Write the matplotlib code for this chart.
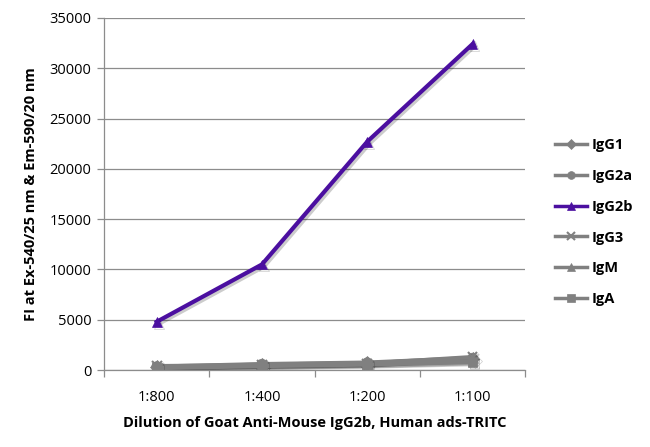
import matplotlib
matplotlib.use("Agg")
import matplotlib.pyplot as plt
import matplotlib.patheffects as pe

dilutions = ["1:800", "1:400", "1:200", "1:100"]
igg1 = [300, 550, 700, 1100]
igg2a = [350, 600, 750, 1200]
igg2b = [4800, 10500, 22700, 32400]
igg3 = [400, 500, 650, 1300]
igm = [250, 450, 600, 900]
iga = [200, 400, 550, 800]

series = [
    ("IgG1", igg1, "D", "#808080"),
    ("IgG2a", igg2a, "o", "#808080"),
    ("IgG2b", igg2b, "^", "#4B0FA0"),
    ("IgG3", igg3, "x", "#808080"),
    ("IgM", igm, "^", "#808080"),
    ("IgA", iga, "s", "#808080"),
]

plt.rcParams["font.family"] = ["Open Sans", "DejaVu Sans"]

fig = plt.figure(figsize=(6.5, 4.47), dpi=100)
ax = fig.add_axes([0.16, 0.172, 0.648, 0.788])

x = list(range(len(dilutions)))
shadow = [pe.SimpleLineShadow(offset=(1.5, -1.5), shadow_color="black", alpha=0.2), pe.Normal()]
for name, vals, mk, col in series:
    ax.plot(x, vals, color=col, lw=3, marker=mk, markersize=7,
            markeredgewidth=1.5 if mk == "x" else 0.5, markeredgecolor=col,
            label=name, path_effects=shadow, zorder=3 if name == "IgG2b" else 2)

ax.set_xlim(-0.5, 3.5)
ax.set_ylim(0, 35000)
ax.set_yticks(range(0, 35001, 5000))
ax.yaxis.grid(True, color="#8c8c8c", lw=0.9)
ax.set_axisbelow(True)
ax.set_xticks(x)
ax.set_xticklabels(dilutions)
ax.set_xticks([-0.5, 0.5, 1.5, 2.5, 3.5], minor=True)
ax.tick_params(axis="x", which="major", length=0, pad=14, labelsize=10.5)
ax.tick_params(axis="x", which="minor", length=5, color="#8c8c8c", width=0.9)
ax.tick_params(axis="y", length=5, color="#8c8c8c", width=0.9, labelsize=10.5, pad=4)
for s in ["top", "right"]:
    ax.spines[s].set_visible(False)
for s in ["left", "bottom"]:
    ax.spines[s].set_color("#8c8c8c")
    ax.spines[s].set_linewidth(0.9)

ax.set_ylabel("FI at Ex-540/25 nm & Em-590/20 nm", fontsize=10.5, fontweight="bold", labelpad=8)
ax.set_xlabel("Dilution of Goat Anti-Mouse IgG2b, Human ads-TRITC", fontsize=10.5,
              fontweight="bold", labelpad=8)

leg = ax.legend(loc="center left", bbox_to_anchor=(1.04, 0.42), frameon=False,
                fontsize=10.5, handlelength=2.2, labelspacing=1.15, handletextpad=0.3,
                markerscale=0.8)
for t in leg.get_texts():
    t.set_fontweight("bold")
for h in leg.legend_handles:
    h.set_path_effects([])
    h.set_linewidth(2.5)

fig.savefig("out.png", dpi=100)
